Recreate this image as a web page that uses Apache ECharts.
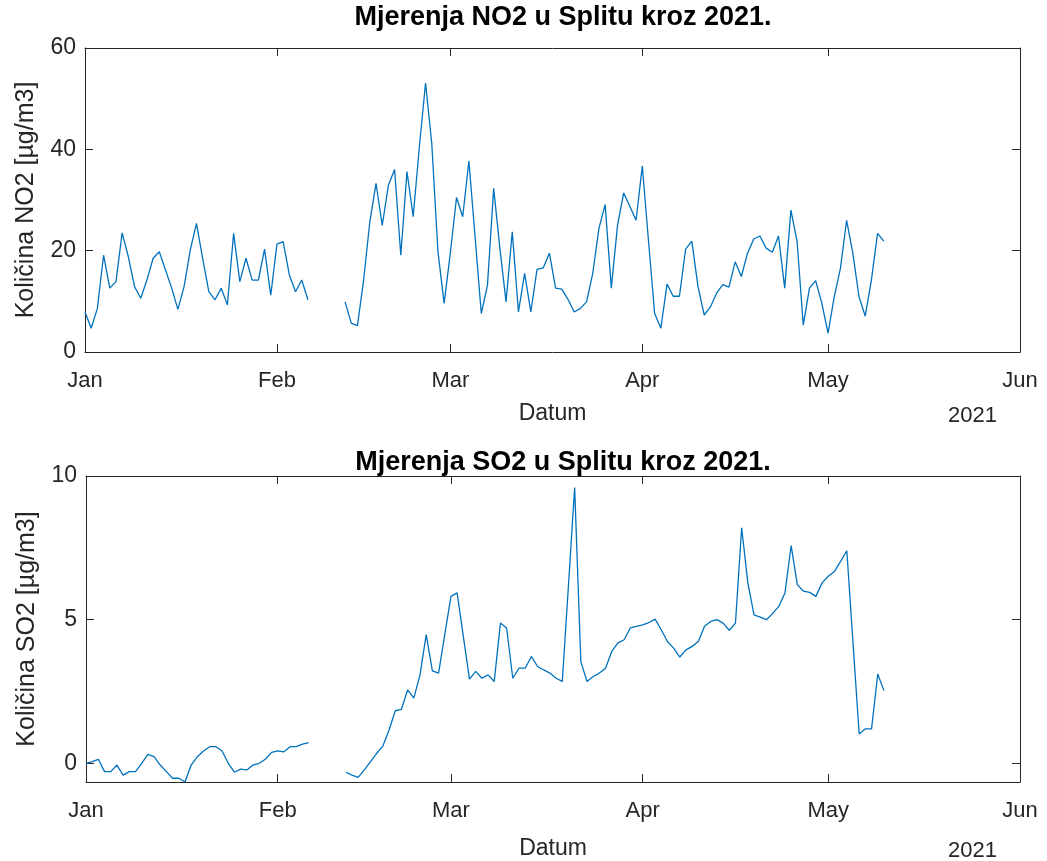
<!DOCTYPE html>
<html>
<head>
<meta charset="utf-8">
<script src="https://cdn.jsdelivr.net/npm/echarts@6/dist/echarts.min.js"></script>
<style>
html,body{margin:0;padding:0;background:#fff;}
#c{width:1047px;height:861px;}
</style>
</head>
<body>
<div id="c"></div>
<script>
// Day index 0 = 1 Jan 2021
const monthStartDays = [0, 31, 59, 90, 120, 151];
const monthLabels = ['Jan', 'Feb', 'Mar', 'Apr', 'May', 'Jun'];
const no2Ticks = [0, 20, 40, 60];
const so2Ticks = [0, 5, 10];

// NO2: 1 Jan - 6 Feb, missing 7-11 Feb, 12 Feb - 10 May
const no2Part1 = [7.9, 4.7, 8.6, 19.1, 12.6, 13.9, 23.5, 18.8, 12.9, 10.6,
  14.2, 18.5, 19.8, 16.2, 12.6, 8.4, 12.9, 20.1, 25.4, 18.5,
  11.9, 10.3, 12.6, 9.3, 23.4, 13.9, 18.5, 14.2, 14.2, 20.3,
  11.2, 21.3, 21.8, 15.2, 11.9, 14.2, 10.3];
const no2Part2 = [9.9, 5.7, 5.2, 14.2, 25.7, 33.3, 25.0, 32.9, 36.0, 19.1,
  35.6, 26.7, 40.5, 53.1, 41.2, 19.8, 9.6, 19.5, 30.5, 26.7,
  37.7, 22.7, 7.6, 13.2, 32.3, 20.5, 9.9, 23.7, 7.9, 15.5,
  7.9, 16.3, 16.6, 19.5, 12.6, 12.4, 10.4, 7.9, 8.6, 9.9,
  15.5, 24.4, 29.1, 12.6, 25.0, 31.4, 28.7, 26.0, 36.7, 22.0,
  7.6, 4.7, 13.4, 11.0, 11.0, 20.3, 21.9, 12.9, 7.3, 8.9,
  11.6, 13.3, 12.8, 17.8, 14.9, 19.5, 22.3, 22.9, 20.5, 19.7,
  22.9, 12.6, 28.0, 21.8, 5.3, 12.6, 14.1, 9.6, 3.7, 10.9,
  16.5, 26.0, 19.5, 10.9, 7.1, 14.2, 23.4, 21.9];

const so2Part1 = [0.0, 0.06, 0.14, -0.29, -0.29, -0.06, -0.41, -0.29, -0.29, 0.0,
  0.31, 0.23, -0.06, -0.29, -0.52, -0.52, -0.65, -0.06, 0.23, 0.43,
  0.58, 0.58, 0.43, 0.0, -0.31, -0.2, -0.23, -0.06, 0.0, 0.14,
  0.38, 0.43, 0.4, 0.58, 0.58, 0.67, 0.72];
const so2Part2 = [-0.31, -0.41, -0.49, -0.23, 0.06, 0.35, 0.6, 1.16, 1.83, 1.88,
  2.56, 2.27, 3.08, 4.48, 3.22, 3.14, 4.48, 5.81, 5.93, 4.42,
  2.93, 3.2, 2.96, 3.08, 2.85, 4.88, 4.71, 2.96, 3.31, 3.31,
  3.72, 3.37, 3.25, 3.14, 2.96, 2.85, 6.2, 9.6, 3.54, 2.85,
  3.02, 3.14, 3.31, 3.9, 4.19, 4.3, 4.71, 4.77, 4.82, 4.9,
  5.02, 4.65, 4.24, 4.01, 3.7, 3.95, 4.07, 4.24, 4.77, 4.94,
  5.0, 4.88, 4.63, 4.88, 8.2, 6.28, 5.17, 5.09, 5.0, 5.21,
  5.46, 5.93, 7.58, 6.22, 5.99, 5.95, 5.81, 6.28, 6.51, 6.68,
  7.03, 7.4, 4.2, 1.02, 1.2, 1.2, 3.11, 2.53];
const part2StartDay = 42;

function buildSeries(p1, p2) {
  const out = [];
  p1.forEach((v, i) => out.push([i, v]));
  for (let d = p1.length; d < part2StartDay; d++) out.push([d, null]);
  p2.forEach((v, i) => out.push([part2StartDay + i, v]));
  return out;
}
const no2Data = buildSeries(no2Part1, no2Part2);
const so2Data = buildSeries(so2Part1, so2Part2);

const FONT = '"Liberation Sans", Arial, Helvetica, sans-serif';
const AX = '#262626';
const lbl = (v) => monthLabels[monthStartDays.indexOf(v)];

function xAxisPair(gridIndex, nameGap) {
  const tick = () => ({show: true, inside: true, length: 8, customValues: monthStartDays, lineStyle: {color: AX, width: 1}});
  const base = () => ({
    type: 'value', gridIndex, min: 0, max: 151,
    splitLine: {show: false},
    axisLine: {show: true, onZero: false, lineStyle: {color: AX, width: 1}},
    axisTick: tick()
  });
  return [
    Object.assign(base(), {
      position: 'bottom',
      axisLabel: {show: true, customValues: monthStartDays, formatter: lbl, color: AX,
        fontFamily: FONT, fontSize: 22, margin: 18, showMinLabel: true, showMaxLabel: true},
      name: 'Datum', nameLocation: 'middle', nameGap,
      nameTextStyle: {color: AX, fontFamily: FONT, fontSize: 23}
    }),
    Object.assign(base(), {position: 'top', axisLabel: {show: false}})
  ];
}
function yAxisPair(gridIndex, min, max, ticks, name) {
  const tick = () => ({show: true, inside: true, length: 8, customValues: ticks, lineStyle: {color: AX, width: 1}});
  const base = () => ({
    type: 'value', gridIndex, min, max,
    splitLine: {show: false},
    axisLine: {show: true, onZero: false, lineStyle: {color: AX, width: 1}},
    axisTick: tick()
  });
  return [
    Object.assign(base(), {
      position: 'left',
      axisLabel: {show: true, customValues: ticks, color: AX, fontFamily: FONT, fontSize: 23, margin: 9},
      name, nameLocation: 'middle', nameGap: 46,
      nameTextStyle: {color: AX, fontFamily: FONT, fontSize: 25}
    }),
    Object.assign(base(), {position: 'right', axisLabel: {show: false}})
  ];
}

const titleStyle = {color: '#000', fontFamily: FONT, fontSize: 27, fontWeight: 'bold'};
const yearStyle = {color: AX, fontFamily: FONT, fontSize: 22, fontWeight: 'normal'};

const option = {
  animation: false,
  backgroundColor: '#fff',
  title: [
    {text: 'Mjerenja NO2 u Splitu kroz 2021.', left: 558, top: -1, textAlign: 'center', textStyle: titleStyle},
    {text: 'Mjerenja SO2 u Splitu kroz 2021.', left: 558, top: 444, textAlign: 'center', textStyle: titleStyle},
    {text: '2021', left: 943, top: 400, textStyle: yearStyle},
    {text: '2021', left: 943, top: 835, textStyle: yearStyle}
  ],
  grid: [
    {left: 85, top: 48, width: 935, height: 304, containLabel: false},
    {left: 86, top: 476, width: 934, height: 306, containLabel: false}
  ],
  xAxis: [...xAxisPair(0, 50), ...xAxisPair(1, 55)],
  yAxis: [...yAxisPair(0, 0, 60, no2Ticks, 'Količina NO2 [µg/m3]'),
          ...yAxisPair(1, -0.65, 10, so2Ticks, 'Količina SO2 [µg/m3]')],
  series: [
    {type: 'line', xAxisIndex: 0, yAxisIndex: 0, data: no2Data, showSymbol: false,
      connectNulls: false, lineStyle: {color: '#0072BD', width: 1.3}, itemStyle: {color: '#0072BD'}},
    {type: 'line', xAxisIndex: 2, yAxisIndex: 2, data: so2Data, showSymbol: false,
      connectNulls: false, lineStyle: {color: '#0072BD', width: 1.3}, itemStyle: {color: '#0072BD'}}
  ]
};
const chart = echarts.init(document.getElementById('c'), null, {renderer: 'canvas'});
chart.setOption(option);
</script>
</body>
</html>
